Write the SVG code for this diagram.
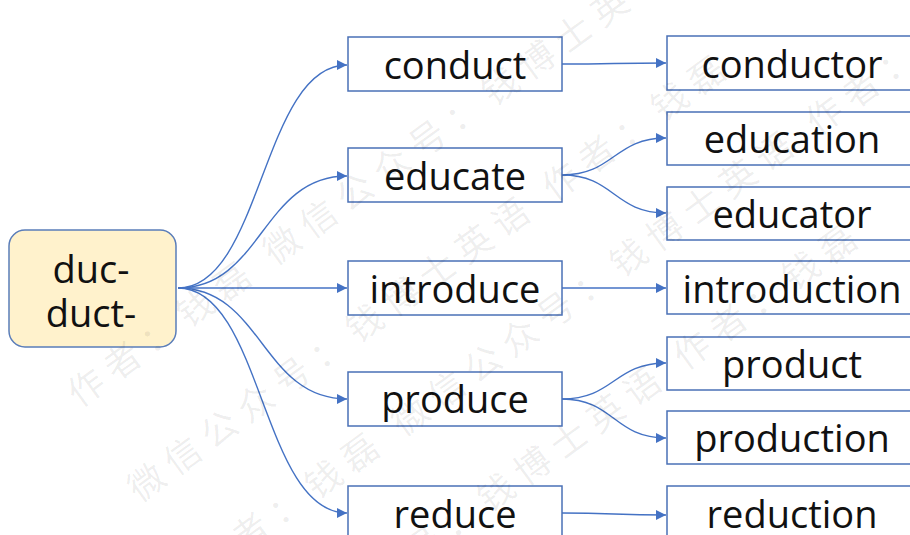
<svg xmlns="http://www.w3.org/2000/svg" width="910" height="535" viewBox="0 0 910 535">
  <defs>
    <marker id="arrow" viewBox="0 0 10 10" refX="10" refY="5" markerWidth="10" markerHeight="10" markerUnits="userSpaceOnUse" orient="auto">
      <path d="M0,0 L10,5 L0,10 z" fill="#4472C4"/>
    </marker>
    <style>
      .box { fill: #ffffff; stroke: #4A70B6; stroke-width: 1.5; }
      .root { fill: #FFF2CC; stroke: #5A7DB9; stroke-width: 1.5; }
      .lbl { font-family: "Open Sans", "Noto Sans", sans-serif; font-size: 38px; fill: #111111; text-anchor: middle; }
      .conn { fill: none; stroke: #4472C4; stroke-width: 1.4; marker-end: url(#arrow); }
      .wm { font-family: "Noto Sans CJK SC", sans-serif; font-size: 36px; letter-spacing: 9px; fill: #000000; fill-opacity: 0.07; }
    </style>
  </defs>
  <rect width="910" height="535" fill="#ffffff"/>

  <g id="connectors">
    <path class="conn" d="M178,288 C262,288 262,65 347,65"/>
    <path class="conn" d="M178,288 C262,288 262,176 347,176"/>
    <path class="conn" d="M178,288 L347,288"/>
    <path class="conn" d="M178,288 C262,288 262,399 347,399"/>
    <path class="conn" d="M178,288 C262,288 262,513 347,513"/>
    <path class="conn" d="M562,64 C614,64 614,63 666,63"/>
    <path class="conn" d="M562,175 C614,175 614,138 666,138"/>
    <path class="conn" d="M562,175 C614,175 614,213 666,213"/>
    <path class="conn" d="M562,288 L666,288"/>
    <path class="conn" d="M562,399 C614,399 614,363 666,363"/>
    <path class="conn" d="M562,399 C614,399 614,438 666,438"/>
    <path class="conn" d="M562,513 C614,513 614,515 666,515"/>
  </g>

  <g id="root">
    <rect class="root" x="9" y="230" width="167" height="117" rx="16"/>
    <text class="lbl"><tspan x="91" y="283">duc-</tspan><tspan x="91" y="327">duct-</tspan></text>
  </g>

  <g id="conduct"><rect class="box" x="348" y="37" width="214" height="54"/><text class="lbl" x="455" y="79">conduct</text></g>
  <g id="educate"><rect class="box" x="348" y="148" width="214" height="54"/><text class="lbl" x="455" y="190">educate</text></g>
  <g id="introduce"><rect class="box" x="348" y="261" width="214" height="54"/><text class="lbl" x="455" y="303">introduce</text></g>
  <g id="produce"><rect class="box" x="348" y="372" width="214" height="54"/><text class="lbl" x="455" y="413">produce</text></g>
  <g id="reduce"><rect class="box" x="348" y="486" width="214" height="54"/><text class="lbl" x="455" y="528">reduce</text></g>

  <g id="conductor"><rect class="box" x="667" y="36" width="250" height="54"/><text class="lbl" x="792" y="78">conductor</text></g>
  <g id="education"><rect class="box" x="667" y="112" width="250" height="53"/><text class="lbl" x="792" y="153">education</text></g>
  <g id="educator"><rect class="box" x="667" y="187" width="250" height="53"/><text class="lbl" x="792" y="228">educator</text></g>
  <g id="introduction"><rect class="box" x="667" y="261" width="250" height="53"/><text class="lbl" x="792" y="303">introduction</text></g>
  <g id="product"><rect class="box" x="667" y="337" width="250" height="53"/><text class="lbl" x="792" y="378">product</text></g>
  <g id="production"><rect class="box" x="667" y="411" width="250" height="53"/><text class="lbl" x="792" y="452">production</text></g>
  <g id="reduction"><rect class="box" x="667" y="486" width="250" height="54"/><text class="lbl" x="792" y="528">reduction</text></g>

  <g id="watermark" transform="rotate(-36)">
    <text class="wm" x="-176" y="377">作者：钱磊 微信公众号：钱博士英语</text>
    <text class="wm" x="-183" y="489">微信公众号：钱博士英语 作者：钱磊</text>
    <text class="wm" x="-173" y="591">作者：钱磊 微信公众号：钱博士英语 作者：钱磊</text>
    <text class="wm" x="-176" y="703">微信公众号：钱博士英语 作者：钱磊</text>
  </g>
</svg>
